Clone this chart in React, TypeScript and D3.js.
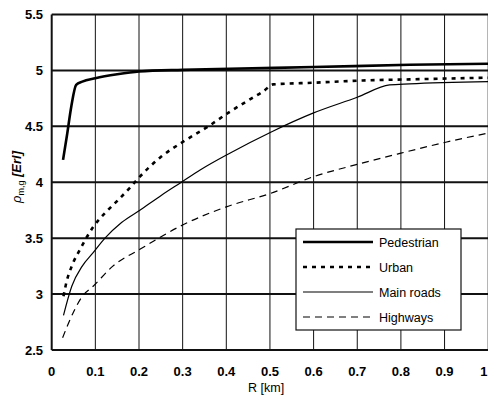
import React from "react";
import * as d3 from "d3";

const xTicks = [0, 0.1, 0.2, 0.3, 0.4, 0.5, 0.6, 0.7, 0.8, 0.9, 1];
const yTicks = [2.5, 3, 3.5, 4, 4.5, 5, 5.5];

const pedR = [0.026, 0.035, 0.045, 0.056, 0.07, 0.1, 0.15, 0.2, 0.3, 0.408, 0.6, 0.82, 1.0];
const pedV = [4.2, 4.42, 4.68, 4.87, 4.9, 4.93, 4.965, 4.99, 5.005, 5.015, 5.03, 5.05, 5.06];

const urbR = [0.027, 0.034, 0.046, 0.065, 0.095, 0.126, 0.152, 0.179, 0.202, 0.248, 0.3, 0.355, 0.408, 0.458, 0.484, 0.507, 0.6, 0.712, 0.82, 1.0];
const urbV = [2.98, 3.11, 3.25, 3.4, 3.6, 3.74, 3.84, 3.95, 4.05, 4.22, 4.36, 4.49, 4.63, 4.75, 4.81, 4.875, 4.89, 4.91, 4.92, 4.935];

const mainR = [0.027, 0.046, 0.07, 0.095, 0.122, 0.16, 0.202, 0.25, 0.297, 0.34, 0.408, 0.503, 0.6, 0.7, 0.774, 0.82, 1.0];
const mainV = [2.81, 3.07, 3.25, 3.37, 3.5, 3.64, 3.75, 3.88, 4.0, 4.11, 4.26, 4.45, 4.62, 4.76, 4.87, 4.88, 4.9];

const hwyR = [0.025, 0.05, 0.07, 0.095, 0.14, 0.202, 0.301, 0.4, 0.501, 0.6, 0.7, 0.8, 0.905, 1.0];
const hwyV = [2.61, 2.84, 2.98, 3.07, 3.25, 3.4, 3.62, 3.78, 3.9, 4.05, 4.16, 4.26, 4.36, 4.44];

const legendNames = ["Pedestrian", "Urban", "Main roads", "Highways"];

const font = "'Liberation Sans', Arial, sans-serif";

export default function App() {
  const W = 488, H = 398;
  const x = d3.scaleLinear().domain([0, 1]).range([51.7, 488.2]);
  const y = d3.scaleLinear().domain([2.5, 5.5]).range([350, 14.5]);

  const styles = [
    { w: 2.6, dash: "none" },
    { w: 2.6, dash: "4 5" },
    { w: 1.2, dash: "none" },
    { w: 1.2, dash: "7 5" },
  ];
  const series = [
    [pedR, pedV],
    [urbR, urbV],
    [mainR, mainV],
    [hwyR, hwyV],
  ];
  const line = d3
    .line<[number, number]>()
    .x((d) => x(d[0]))
    .y((d) => y(d[1]))
    .curve(d3.curveMonotoneX);

  const lx = 296, ly = 229, lw = 165, lh = 101;

  return (
    <svg width={W} height={H} style={{ position: "absolute", left: 0, top: 0, background: "#fff" }}>
      <rect x={0} y={0} width={W} height={H} fill="#fff" />
      {xTicks.map((t) => (
        <line key={"vx" + t} x1={x(t)} x2={x(t)} y1={y(5.5)} y2={y(2.5)} stroke="#111" strokeWidth={t === 0 ? 2 : 1} />
      ))}
      {yTicks.map((t) => (
        <line key={"hy" + t} x1={x(0)} x2={x(1)} y1={y(t)} y2={y(t)} stroke="#111" strokeWidth={2} />
      ))}
      {series.map((s, i) => (
        <path
          key={"s" + i}
          d={line(s[0].map((r, j) => [r, s[1][j]] as [number, number])) || ""}
          fill="none"
          stroke="#000"
          strokeWidth={styles[i].w}
          strokeDasharray={styles[i].dash}
        />
      ))}
      {yTicks.map((t) => (
        <text key={"yl" + t} x={43} y={y(t) + 4.5} textAnchor="end" fontFamily={font} fontSize={13} fontWeight="bold" fill="#000">
          {t}
        </text>
      ))}
      {xTicks.map((t) => (
        <text key={"xl" + t} x={t === 1 ? 487.5 : x(t)} y={376} textAnchor={t === 1 ? "end" : "middle"} fontFamily={font} fontSize={13} fontWeight="bold" fill="#000">
          {t}
        </text>
      ))}
      <text x={248} y={392} fontFamily={font} fontSize={12.5} fill="#000">R [km]</text>
      <text transform="translate(21,177) rotate(-90)" textAnchor="middle" fontFamily={font} fontSize={13} fill="#000">
        <tspan fontStyle="italic">ρ</tspan>
        <tspan fontSize={9} dy={3}>m,g</tspan>
        <tspan dy={-3} fontStyle="italic" fontWeight="bold"> [Erl]</tspan>
      </text>
      <rect x={lx} y={ly} width={lw} height={lh} fill="#fff" stroke="#111" strokeWidth={1.2} />
      {legendNames.map((n, i) => {
        const yy = ly + 13 + i * 25;
        return (
          <g key={"lg" + i}>
            <line x1={lx + 7} x2={lx + 77} y1={yy} y2={yy} stroke="#000" strokeWidth={styles[i].w} strokeDasharray={styles[i].dash} />
            <text x={lx + 83} y={yy + 4.5} fontFamily={font} fontSize={12.5} fill="#000">
              {n}
            </text>
          </g>
        );
      })}
    </svg>
  );
}
